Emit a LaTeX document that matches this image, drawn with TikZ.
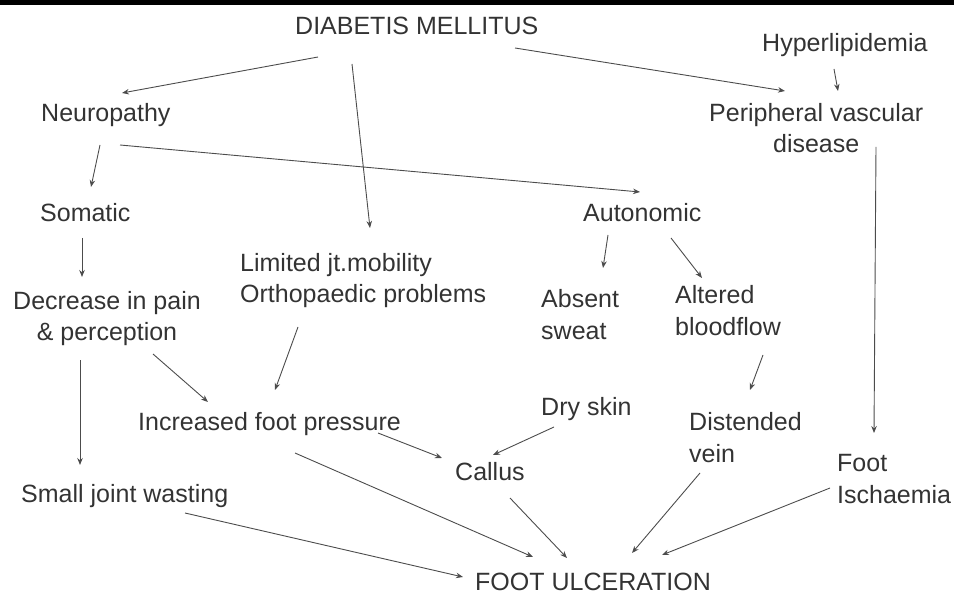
\documentclass[tikz,border=0pt]{standalone}
\usepackage{fontspec}
\setmainfont{Liberation Sans}
\usetikzlibrary{arrows.meta}
\begin{document}
\begin{tikzpicture}[x=1pt, y=-1pt,
  every node/.style={font=\fontsize{25}{31.5}\selectfont, text=black!80},
  tnode/.style={anchor=base west, inner sep=0pt},
  arr/.style={draw=black!70, line width=0.9pt, -{Stealth[length=7pt, width=5.5pt]}}]
  \useasboundingbox (0,0) rectangle (954,596);
  \fill[black] (0,0) rectangle (954,5);
  % text nodes (two-line nodes sit on their last baseline)
  \node[tnode] (dm) at (295,35) {DIABETIS MELLITUS};
  \node[tnode] (hyper) at (762,52) {Hyperlipidemia};
  \node[tnode] (neuro) at (41,122) {Neuropathy};
  \node[tnode, align=center] (pvd) at (709,153) {Peripheral vascular\\disease};
  \node[tnode] (somatic) at (40,222) {Somatic};
  \node[tnode] (auto) at (583,222) {Autonomic};
  \node[tnode, align=left] (limited) at (240,303) {Limited jt.mobility\\Orthopaedic problems};
  \node[tnode, align=center] (decrease) at (13,341) {Decrease in pain\\\& perception};
  \node[tnode, align=left] (absent) at (541,339) {Absent\\sweat};
  \node[tnode, align=left] (altered) at (675,335) {Altered\\bloodflow};
  \node[tnode] (increased) at (138,430) {Increased foot pressure};
  \node[tnode] (dry) at (541,415) {Dry skin};
  \node[tnode, align=left] (distended) at (689,462) {Distended\\vein};
  \node[tnode] (callus) at (455,480) {Callus};
  \node[tnode, align=left] (foot) at (837,503) {Foot\\Ischaemia};
  \node[tnode] (small) at (21,502) {Small joint wasting};
  \node[tnode] (ulcer) at (475,590) {FOOT ULCERATION};
  % arrows
  \draw[arr] ([shift={(23,22)}]dm.base west) -- ([shift={(81,-29)}]neuro.base west);
  \draw[arr] ([shift={(57,29)}]dm.base west) -- ([shift={(130,-75)}]limited.base west);
  \draw[arr] ([shift={(220,13)}]dm.base west) -- ([shift={(76,-62)}]pvd.base west);
  \draw[arr] ([shift={(72,17)}]hyper.base west) -- ([shift={(129,-62)}]pvd.base west);
  \draw[arr] ([shift={(59,23)}]neuro.base west) -- ([shift={(51,-35)}]somatic.base west);
  \draw[arr] ([shift={(79,23)}]neuro.base west) -- ([shift={(57,-30)}]auto.base west);
  \draw[arr] ([shift={(42,16)}]somatic.base west) -- ([shift={(69,-64)}]decrease.base west);
  \draw[arr] ([shift={(25,13)}]auto.base west) -- ([shift={(62,-71)}]absent.base west);
  \draw[arr] ([shift={(88,16)}]auto.base west) -- ([shift={(27,-57)}]altered.base west);
  \draw[arr] ([shift={(167,-6)}]pvd.base west) -- ([shift={(37,-70)}]foot.base west);
  \draw[arr] ([shift={(58,24)}]limited.base west) -- ([shift={(137,-40)}]increased.base west);
  \draw[arr] ([shift={(140,13)}]decrease.base west) -- ([shift={(70,-28)}]increased.base west);
  \draw[arr] ([shift={(67,19)}]decrease.base west) -- ([shift={(59,-37)}]small.base west);
  \draw[arr] ([shift={(240,3)}]increased.base west) -- ([shift={(-13,-22)}]callus.base west);
  \draw[arr] ([shift={(157,23)}]increased.base west) -- ([shift={(58,-33)}]ulcer.base west);
  \draw[arr] ([shift={(164,11)}]small.base west) -- ([shift={(-12,-13)}]ulcer.base west);
  \draw[arr] ([shift={(13,12)}]dry.base west) -- ([shift={(38,-25)}]callus.base west);
  \draw[arr] ([shift={(55,18)}]callus.base west) -- ([shift={(92,-32)}]ulcer.base west);
  \draw[arr] ([shift={(88,20)}]altered.base west) -- ([shift={(61,-72)}]distended.base west);
  \draw[arr] ([shift={(11,11)}]distended.base west) -- ([shift={(157,-37)}]ulcer.base west);
  \draw[arr] ([shift={(-7,-15)}]foot.base west) -- ([shift={(187,-35)}]ulcer.base west);
\end{tikzpicture}
\end{document}
